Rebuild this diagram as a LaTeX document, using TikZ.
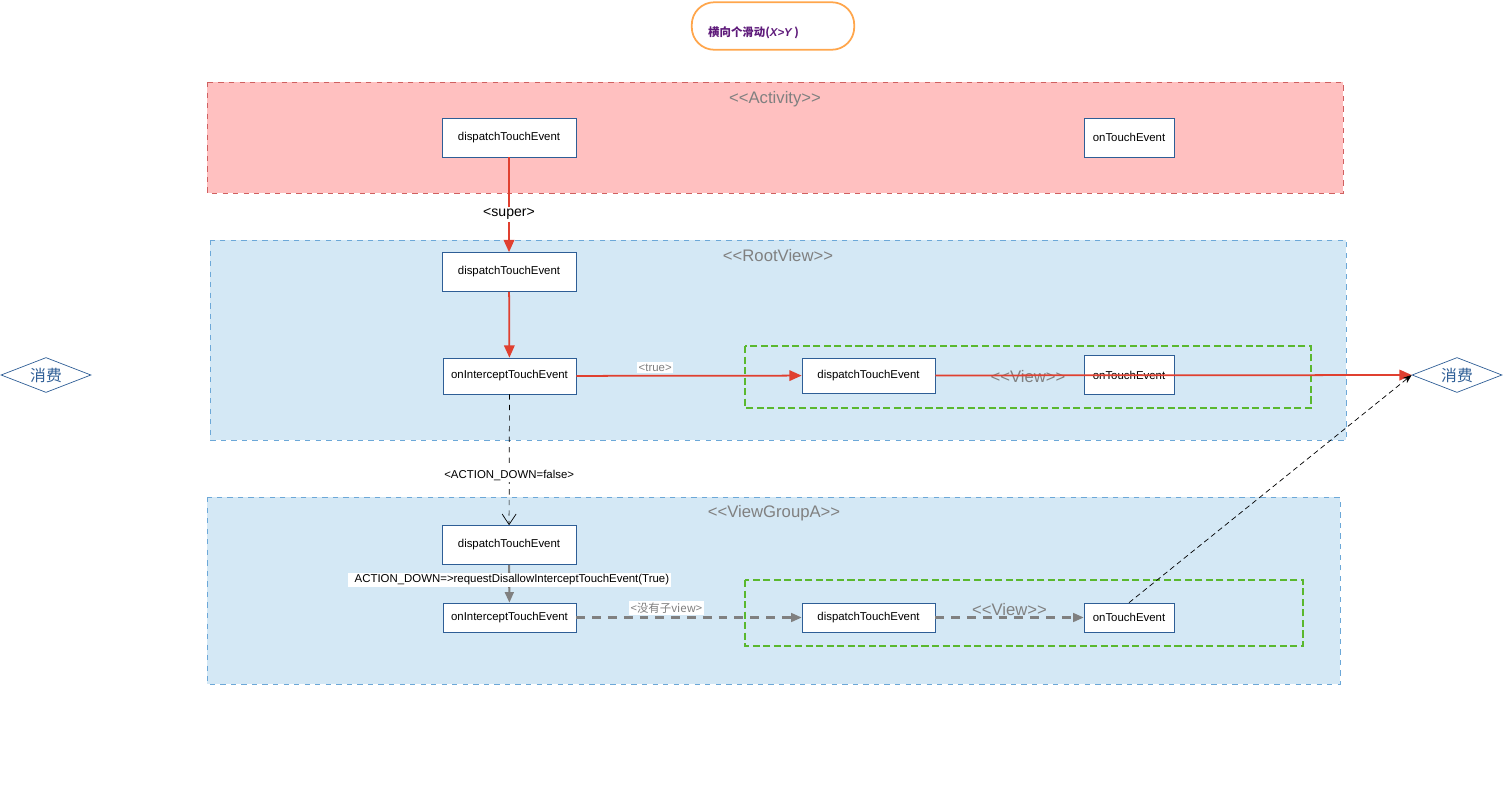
\documentclass[tikz,border=0pt]{standalone}
\usepackage{fontspec}
\setmainfont{Liberation Sans}
\newfontfamily\cjk{Noto Sans CJK SC}
\usetikzlibrary{positioning, arrows.meta, shapes.geometric}
\definecolor{actfill}{HTML}{FFC0C0}
\definecolor{actline}{HTML}{D06060}
\definecolor{layfill}{HTML}{D4E8F5}
\definecolor{layline}{HTML}{6CA8D8}
\definecolor{boxline}{HTML}{2E5E96}
\definecolor{flowred}{HTML}{E04030}
\definecolor{viewgreen}{HTML}{5AB82E}
\definecolor{titlepurple}{HTML}{5E1A7A}
\newcommand{\ltlt}{{<}{<}}
\newcommand{\gtgt}{{>}{>}}
\tikzset {
    x=0.02cm, y=-0.02cm,
    every node/.style={font=\fontsize{6.5}{8}\selectfont},
    method/.style={draw=boxline, fill=white, minimum height=0.78cm, inner sep=2pt},
    layer/.style={draw=#1, dashed, line width=0.4pt},
    laytitle/.style={text=gray, font=\fontsize{9.5}{10}\selectfont},
    viewbox/.style={draw=viewgreen, line width=0.9pt, dash pattern=on 4pt off 2pt},
    consume/.style={diamond, draw=boxline, aspect=2.6, inner sep=0.5pt, minimum width=1.8cm, minimum height=0.7cm, text=boxline, font=\cjk\fontsize{9}{10}\selectfont},
    redflow/.style={draw=flowred, line width=1pt, -{Triangle[length=7pt,width=6pt]}},
    grayflow/.style={draw=gray, line width=1.2pt, -{Triangle[length=6pt,width=5pt]}},
    grayline/.style={dash pattern=on 5pt off 4pt},
    tag/.style={fill=white, inner sep=1pt, text=gray}
}
\begin{document}
\begin{tikzpicture}
\useasboundingbox (0,0) rectangle (1503,798);
% title
\node[draw=orange!70, line width=1pt, rounded corners=0.45cm, minimum width=3.25cm, minimum height=0.95cm] (title) at (773,26) {};
\node[text=titlepurple, font=\cjk\bfseries\fontsize{6.5}{8}\selectfont, anchor=west] (titletext) at (702,33) {横向个滑动({\rmfamily\bfseries\itshape X>Y} )};
% layers
\filldraw[layer=actline, fill=actfill] (207,82) rectangle (1343,193);
\filldraw[layer=layline, fill=layfill] (210,240) rectangle (1346,440);
\filldraw[layer=layline, fill=layfill] (207,497) rectangle (1340,684);
\node[laytitle] (tact) at (775,99) {\ltlt Activity\gtgt};
\node[laytitle] (troot) at (778,256) {\ltlt RootView\gtgt};
\node[laytitle] (tvga) at (774,513) {\ltlt ViewGroupA\gtgt};
\draw[viewbox] (745,346) rectangle (1311,408);
\draw[viewbox] (745,580) rectangle (1303,646);
% Activity
\node[method, minimum width=2.68cm] (actDispatch) at (509,137.5) {dispatchTouchEvent};
\node[method, minimum width=1.8cm] (actTouch) at (1129,137.5) {onTouchEvent};
% RootView
\node[method, minimum width=2.68cm] (rootDispatch) at (509,272) {dispatchTouchEvent};
\node[method, minimum width=2.66cm, minimum height=0.72cm] (rootIntercept) at (509.5,376) {onInterceptTouchEvent};
\node[method, minimum width=2.66cm, minimum height=0.7cm] (viewDispatch) at (868.5,375.5) {dispatchTouchEvent};
\node[laytitle] (tview) at (1028,377) {\ltlt View\gtgt};
\node[method, minimum width=1.8cm] (viewTouch) at (1129,375) {onTouchEvent};
% ViewGroupA
\node[method, minimum width=2.68cm] (vgaDispatch) at (509,545) {dispatchTouchEvent};
\node[method, minimum width=2.66cm, minimum height=0.58cm] (vgaIntercept) at (509.5,617.5) {onInterceptTouchEvent};
\node[method, minimum width=2.66cm, minimum height=0.58cm] (cDispatch) at (868.5,617.5) {dispatchTouchEvent};
\node[method, minimum width=1.8cm, minimum height=0.58cm] (cTouch) at (1129,617.5) {onTouchEvent};
% consumed
\node[consume] (eatL) at (46,375) {消费};
\node[consume] (eatR) at (1457,375) {消费};
% flows
\draw[redflow] (actDispatch) -- node[fill=white, inner sep=1pt, text=black, pos=0.6, font=\fontsize{8}{9}\selectfont] {<super>} (rootDispatch);
\draw[redflow] (rootDispatch) -- (rootIntercept);
\draw[redflow] (rootIntercept) -- node[tag, above=1pt, pos=0.35] {<true>} (viewDispatch);
\draw[redflow] (viewDispatch) -- (eatR);
\draw[dashed, -{Straight Barb[length=6pt,width=8pt]}] (rootIntercept) -- node[inner sep=1pt, pos=0.62, fill=white] {<ACTION\_DOWN=false>} (vgaDispatch);
\draw[grayflow] (vgaDispatch) -- node[fill=white, inner sep=1pt, text=black, pos=0.4] {\hspace{3pt}ACTION\_DOWN=>requestDisallowInterceptTouchEvent(True)\hspace{12pt}} (vgaIntercept);
\draw[grayflow, grayline] (vgaIntercept) -- node[tag, above=1pt, pos=0.4, font=\cjk\fontsize{6.5}{8}\selectfont] {<没有子view>} (cDispatch);
\draw[grayflow, grayline] (cDispatch) -- node[laytitle, above=-3pt] {\ltlt View\gtgt} (cTouch);
\draw[densely dashed, -{Stealth[length=5pt]}] (cTouch.north) -- (eatR.west);
\end{tikzpicture}
\end{document}
